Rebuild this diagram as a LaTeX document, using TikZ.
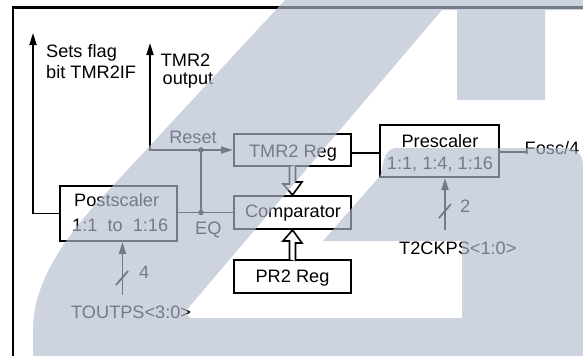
\documentclass[tikz,border=0pt]{standalone}
\usepackage{fontspec}
\setmainfont{Liberation Sans}[FakeStretch=1.01]
\usetikzlibrary{arrows.meta}
\definecolor{wm}{RGB}{180,188,208}
\begin{document}
\begin{tikzpicture}[x=1pt,y=-1pt,
  box/.style={draw, line width=2pt, minimum width=117pt, inner sep=0pt},
  lab/.style={font=\fontsize{18}{21}\selectfont, inner sep=0pt},
  wire/.style={line width=1.8pt},
  arr/.style={wire, -{Triangle[length=12pt,width=7pt]}},
  hol/.style={line width=1.6pt, fill=white, line join=miter},
  dot/.style={circle, fill, inner sep=0pt, minimum size=5.5pt}]
\useasboundingbox (0,0) rectangle (583,356);
\fill[white] (0,0) rectangle (583,356);
% frame
\draw[line width=2.2pt] (13,356) -- (13,7.5) -- (583,7.5);
% boxes
\node[box, minimum height=32pt] (tmr) at (292.5,150) {};
\node[box, minimum height=33pt] (cmp) at (292.5,212.5) {};
\node[box, minimum height=33pt] (pr2) at (292.5,276.5) {};
\node[box, minimum width=119pt, minimum height=52pt] (pre) at (439.5,151) {};
\node[box, minimum height=55pt] (post) at (118.5,213.5) {};
% texts
\node[lab, anchor=base] (ttmr) at (293,157.5) {TMR2 Reg};
\node[lab, anchor=base] (tcmp) at (293,217.5) {Comparator};
\node[lab, anchor=base] (tpr2) at (292.5,282) {PR2 Reg};
\node[lab, anchor=base] (tpre1) at (440,147) {Prescaler};
\node[lab, anchor=base] (tpre2) at (440,169) {1:1, 1:4, 1:16};
\node[lab, anchor=base west] (tpost1) at (74,206.5) {Postscaler};
\node[lab, anchor=base west] (tpost2) at (72,231) {1:1\ \ to\ \ 1:16};
\node[lab, anchor=base west] (teq) at (195,234.5) {EQ};
\node[lab, anchor=base] (treset) at (193,143) {Reset};
\node[lab, anchor=base west] (tsf1) at (46,57) {Sets flag};
\node[lab, anchor=base west] (tsf2) at (46,78.5) {bit TMR2IF};
\node[lab, anchor=base] (tout1) at (185.5,66) {TMR2};
\node[lab, anchor=base] (tout2) at (188,84.5) {output};
\node[lab, anchor=base west] (tfour) at (139,278.5) {4};
\node[lab, anchor=base west] (ttwo) at (460,212) {2};
\node[lab, anchor=base west] (ttoutps) at (71,318.5) {TOUTPS<3:0>};
\node[lab, anchor=base west] (tckps) at (399,254) {T2CKPS<1:0>};
\node[lab, anchor=base west] (fosc) at (524.5,154.5) {Fosc/4};
% coordinates
\coordinate (sf) at (33,33);
\coordinate (tout) at (150,43);
\coordinate (rdot) at (201,150);
\coordinate (edot) at (201,212.5);
\coordinate (tbot) at (122.5,295);
\coordinate (cbot) at (445,230);
\coordinate (fend) at (527,152);
% connectors
\draw[arr] (post.west) -| (sf);
\draw[arr] (rdot) -| (tout);
\draw[arr] (rdot) -- (tmr.west);
\draw[wire] (rdot) -- (edot);
\draw[wire] (cmp.west) -- (cmp.west -| post.east);
\node[dot] at (rdot) {};
\node[dot] at (edot) {};
\draw[wire] (292.5,153) ++(58.5,0) coordinate (te) -- (te -| pre.west);
\draw[wire] (pre.east |- fend) -- (fend);
\draw[hol] (tmr.south) ++(-3,0) -- ++(0,17) -- ++(-6.5,0) -- (cmp.north) -- ++(9.5,-13) -- ++(-6.5,0) -- ++(0,-17);
\draw[hol] (pr2.north) ++(-3,0) -- ++(0,-18) -- ++(-6.5,0) -- (cmp.south) -- ++(9.5,13) -- ++(-6.5,0) -- ++(0,18);
\draw[arr] (tbot) -- (tbot |- post.south);
\draw[wire] (116,285) -- (128,271);
\draw[arr] (cbot) -- (cbot |- pre.south);
\draw[wire] (439,218) -- (451,204);
% watermark overlay
\fill[wm, fill opacity=0.65]
 (285,0) -- (583,0) -- (583,10) -- (545,10) -- (545,100) -- (457,100) -- (457,10) -- (442,10)
 -- (190,306) .. controls (184,313) and (185,318) .. (195,318) -- (462,318) -- (462,241)
 -- (323,241) -- (380,176) .. controls (383,170) and (382,150) .. (395,148) -- (566,148)
 .. controls (576,148) and (583,155) .. (583,165) -- (583,356) -- (33,356) -- (33,330)
 .. controls (33,290) and (55,250) .. (95,205) -- cycle;
\end{tikzpicture}
\end{document}
